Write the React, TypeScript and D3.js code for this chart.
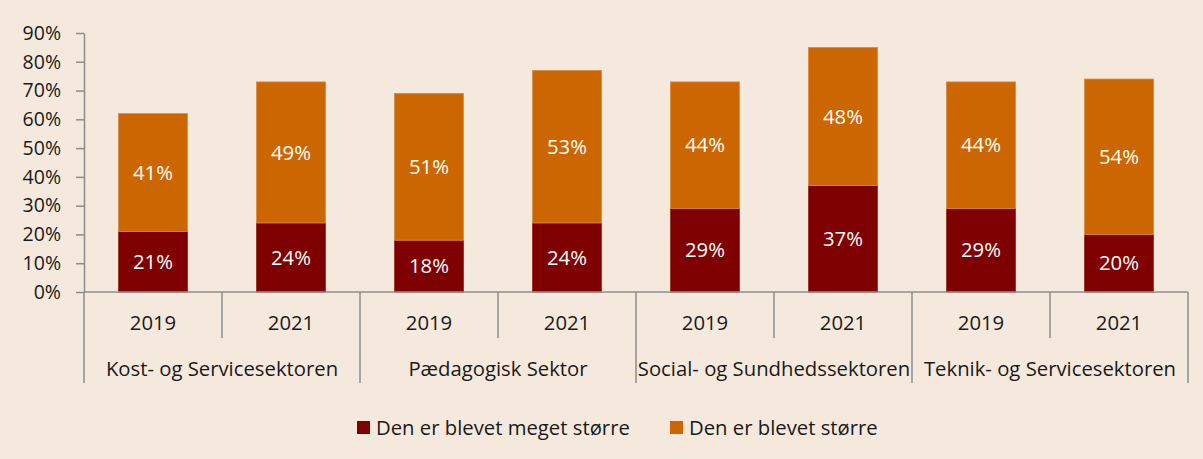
import { useEffect, useRef } from "react";
import * as d3 from "d3";

const WIDTH = 1203;
const HEIGHT = 459;
const MARGIN = { top: 33, left: 84, right: 15, bottom: 167 };
const BG = "#F5E9DD";
const AXIS = "#8C8C8C";
const FONT = "'Open Sans', 'Noto Sans', sans-serif";
const FS = 20.3;

const sectors = [
  "Kost- og Servicesektoren",
  "Pædagogisk Sektor",
  "Social- og Sundhedssektoren",
  "Teknik- og Servicesektoren",
];
const years = ["2019", "2021"];
const seriesNames = ["Den er blevet meget større", "Den er blevet større"];
const COLORS = ["#7F0000", "#CC6600"];

// values per bar, in order sector x year
const megetStorre = [21, 24, 18, 24, 29, 37, 29, 20];
const storre = [41, 49, 51, 53, 44, 48, 44, 54];
const yTicks = [0, 10, 20, 30, 40, 50, 60, 70, 80, 90];

const App = () => {
  const axesRef = useRef<SVGGElement>(null);
  const boundsWidth = 1188 - MARGIN.left;
  const boundsHeight = 292 - MARGIN.top;

  const barKeys = sectors.flatMap((s) => years.map((y) => s + "|" + y));
  const xScale = d3.scaleBand().domain(barKeys).range([0, boundsWidth]).paddingInner(0.5).paddingOuter(0.25);
  const slotScale = d3.scaleBand().domain(barKeys).range([0, boundsWidth]);
  const sectorScale = d3.scaleBand().domain(sectors).range([0, boundsWidth]);
  const yScale = d3.scaleLinear().domain([0, 90]).range([boundsHeight, 0]);

  const rows = barKeys.map((key, i) => ({ key, a: megetStorre[i], b: storre[i] }));
  const stacked = d3.stack<any>().keys(["a", "b"])(rows);

  useEffect(() => {
    const g = d3.select(axesRef.current);
    g.selectAll("*").remove();

    const yAxis = g.append("g").call(
      d3.axisLeft(yScale).tickValues(yTicks).tickSize(8).tickSizeOuter(0).tickPadding(15).tickFormat((d) => d + "%")
    );
    yAxis.select(".domain").attr("stroke", AXIS).attr("stroke-width", 1.5);
    yAxis.selectAll(".tick line").attr("stroke", AXIS).attr("stroke-width", 1.5);
    yAxis
      .selectAll(".tick text")
      .attr("fill", "#1a1a1a")
      .style("font-family", FONT)
      .style("font-size", "19.5px");

    // horizontal baseline
    g.append("line")
      .attr("x1", 0)
      .attr("x2", boundsWidth)
      .attr("y1", boundsHeight)
      .attr("y2", boundsHeight)
      .attr("stroke", AXIS)
      .attr("stroke-width", 1.5);

    // year separators
    barKeys.forEach((k, i) => {
      if (i % 2 === 1) {
        g.append("line")
          .attr("x1", slotScale(k)!)
          .attr("x2", slotScale(k)!)
          .attr("y1", boundsHeight)
          .attr("y2", boundsHeight + 46)
          .attr("stroke", AXIS)
          .attr("stroke-width", 1.5);
      }
    });
    // sector separators
    [...sectors.map((s) => sectorScale(s)!), boundsWidth].forEach((x) => {
      g.append("line")
        .attr("x1", x)
        .attr("x2", x)
        .attr("y1", boundsHeight)
        .attr("y2", boundsHeight + 91)
        .attr("stroke", AXIS)
        .attr("stroke-width", 1.5);
    });
  }, []);

  return (
    <svg
      width={WIDTH}
      height={HEIGHT}
      style={{ position: "absolute", left: 0, top: 0, display: "block" }}
      fontFamily={FONT}
    >
      <rect width={WIDTH} height={HEIGHT} fill={BG} />
      <g transform={`translate(${MARGIN.left},${MARGIN.top})`}>
        {stacked.map((layer, li) =>
          layer.map((d, i) => {
            const key = barKeys[i];
            const y0 = yScale(d[0]);
            const y1 = yScale(d[1]);
            const x = xScale(key)!;
            return (
              <g key={li + "_" + i}>
                <rect
                  x={x}
                  y={y1}
                  width={xScale.bandwidth()}
                  height={y0 - y1}
                  fill={COLORS[li]}
                  stroke={li === 0 ? "#9a2a1a" : "#dd8a40"}
                  strokeWidth={0.8}
                />
                <text
                  x={x + xScale.bandwidth() / 2}
                  y={(y0 + y1) / 2}
                  dy="0.35em"
                  textAnchor="middle"
                  fill="#ffffff"
                  fontSize={FS}
                >
                  {d[1] - d[0] + "%"}
                </text>
              </g>
            );
          })
        )}
        {barKeys.map((k, i) => (
          <text
            key={"yr" + i}
            x={slotScale(k)! + slotScale.bandwidth() / 2}
            y={boundsHeight + 31}
            dy="0.35em"
            textAnchor="middle"
            fill="#1a1a1a"
            fontSize={FS}
          >
            {years[i % 2]}
          </text>
        ))}
        {sectors.map((s) => (
          <text
            key={s}
            x={sectorScale(s)! + sectorScale.bandwidth() / 2}
            y={boundsHeight + 77}
            dy="0.35em"
            textAnchor="middle"
            fill="#1a1a1a"
            fontSize={FS}
          >
            {s}
          </text>
        ))}
        <g ref={axesRef} />
      </g>
      <g transform="translate(357,421)">
        {seriesNames.map((name, i) => (
          <g key={name} transform={`translate(${i * 313},0)`}>
            <rect width={13} height={13} fill={COLORS[i]} />
            <text x={19} y={6.5} dy="0.35em" fill="#1a1a1a" fontSize={FS}>
              {name}
            </text>
          </g>
        ))}
      </g>
    </svg>
  );
};

export default App;
